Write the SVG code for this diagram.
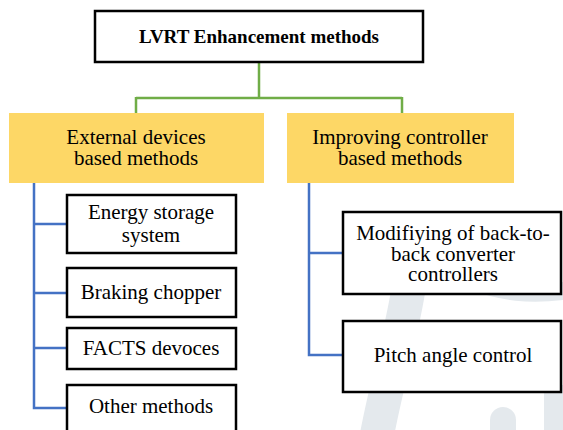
<svg xmlns="http://www.w3.org/2000/svg" width="563" height="430" viewBox="0 0 563 430">
<rect width="563" height="430" fill="#fff"/>
<g id="watermark" fill="none" stroke="#E4E9ED" stroke-linecap="round">
<path d="M408 292 C400 340 385 390 376 440" stroke-width="34"/>
<path d="M470 280 C500 292 530 296 570 290" stroke-width="18"/>
<path d="M503 420 L503 440" stroke-width="26"/>
<path d="M556 395 L556 440" stroke-width="24"/>
</g>
<g id="connectors" fill="none" stroke-width="2.5">
<path stroke="#70AD47" d="M259 62 V98 M136 98 H402 M136 97 V113 M402 97 V113"/>
<path stroke="#4472C4" d="M34 183 V408 H67 M34 224 H67 M34 293 H67 M34 348 H67"/>
<path stroke="#4472C4" d="M309 183 V355 H343 M309 253 H343"/>
</g>
<g id="root">
<rect x="95" y="11" width="328" height="51" fill="#fff" stroke="#000" stroke-width="2.5"/>
<text x="259" y="43" font-family="Liberation Serif" font-size="19" font-weight="bold" text-anchor="middle">LVRT Enhancement methods</text>
</g>
<g id="external">
<rect x="9" y="113" width="255" height="70" fill="#FDD766"/>
<text x="136" y="144" font-family="Liberation Serif" font-size="21" text-anchor="middle">External devices</text>
<text x="136" y="165" font-family="Liberation Serif" font-size="21" text-anchor="middle">based methods</text>
</g>
<g id="controller">
<rect x="287" y="113" width="227" height="70" fill="#FDD766"/>
<text x="400" y="144" font-family="Liberation Serif" font-size="21" text-anchor="middle">Improving controller</text>
<text x="400" y="165" font-family="Liberation Serif" font-size="21" text-anchor="middle">based methods</text>
</g>
<g id="ess">
<rect x="67" y="195" width="169" height="58" fill="#fff" stroke="#000" stroke-width="2.5"/>
<text x="151" y="219" font-family="Liberation Serif" font-size="21" text-anchor="middle">Energy storage</text>
<text x="151" y="242" font-family="Liberation Serif" font-size="21" text-anchor="middle">system</text>
</g>
<g id="chopper">
<rect x="67" y="268" width="169" height="49" fill="#fff" stroke="#000" stroke-width="2.5"/>
<text x="151" y="299" font-family="Liberation Serif" font-size="21" text-anchor="middle">Braking chopper</text>
</g>
<g id="facts">
<rect x="67" y="328" width="169" height="41" fill="#fff" stroke="#000" stroke-width="2.5"/>
<text x="151" y="355" font-family="Liberation Serif" font-size="21" text-anchor="middle">FACTS devoces</text>
</g>
<g id="other">
<rect x="67" y="385" width="169" height="50" fill="#fff" stroke="#000" stroke-width="2.5"/>
<text x="151" y="413" font-family="Liberation Serif" font-size="21" text-anchor="middle">Other methods</text>
</g>
<g id="b2b">
<rect x="343" y="212" width="218" height="82" fill="#fff" stroke="#000" stroke-width="2.5"/>
<text x="453" y="240" font-family="Liberation Serif" font-size="21" text-anchor="middle">Modifiying of back-to-</text>
<text x="453" y="261" font-family="Liberation Serif" font-size="21" text-anchor="middle">back converter</text>
<text x="453" y="281" font-family="Liberation Serif" font-size="21" text-anchor="middle">controllers</text>
</g>
<g id="pitch">
<rect x="343" y="321" width="218" height="71" fill="#fff" stroke="#000" stroke-width="2.5"/>
<text x="453" y="362" font-family="Liberation Serif" font-size="21" text-anchor="middle">Pitch angle control</text>
</g>
</svg>
